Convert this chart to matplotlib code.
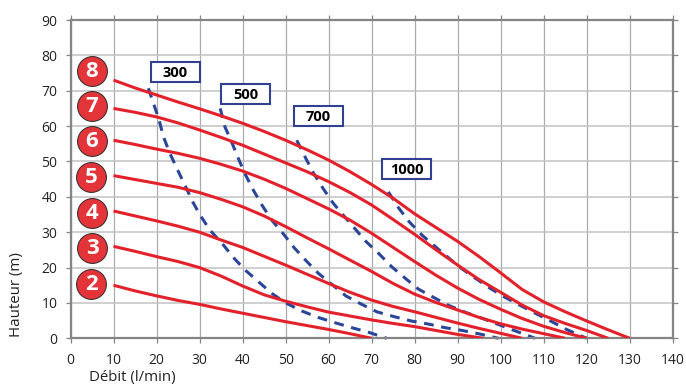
import matplotlib
matplotlib.use("Agg")
import matplotlib.pyplot as plt
from matplotlib.patches import Rectangle

plt.rcParams['font.family'] = ['Open Sans', 'DejaVu Sans']

W, H = 686, 391
# Red curves
x_2 = [10, 15, 20, 25, 30, 35, 40, 45, 50, 55, 60, 65, 70]
y_2 = [15, 13.4, 12, 10.7, 9.6, 8.3, 7.1, 5.9, 4.7, 3.6, 2.5, 1.3, 0]
x_3 = [10, 15, 20, 25, 30, 35, 40, 45, 50, 55, 60, 65, 70, 75, 80, 85, 90, 96]
y_3 = [26, 24.6, 23.1, 21.7, 20, 17.6, 14.8, 12.3, 10.5, 8.9, 7.4, 6.3, 5.2, 4.2, 3.3, 2.2, 1.1, 0]
x_4 = [10, 15, 20, 25, 30, 35, 40, 45, 50, 55, 60, 65, 70, 75, 80, 85, 90, 95, 100, 105]
y_4 = [36, 34.6, 33.2, 31.7, 30, 27.8, 25.7, 23.2, 20.7, 18.1, 15.5, 13, 10.8, 9, 7.5, 5.9, 4.3, 2.8, 1.4, 0]
x_5 = [10, 15, 20, 25, 30, 35, 40, 45, 50, 55, 60, 65, 70, 75, 80, 85, 90, 95, 100, 105, 110, 115]
y_5 = [46, 44.9, 43.8, 42.7, 41.2, 39.3, 37.2, 34.6, 31.6, 28.4, 25.3, 22.1, 18.9, 15.5, 12.5, 10.1, 8, 5.9, 4.1, 2.6, 1.3, 0]
x_6 = [10, 15, 20, 25, 30, 35, 40, 45, 50, 55, 60, 65, 70, 75, 80, 85, 90, 95, 100, 105, 110, 115, 120]
y_6 = [56, 54.8, 53.5, 52.3, 50.9, 49.2, 47.3, 45, 42.4, 39.5, 36.6, 33.4, 29.7, 25.7, 21.7, 17.8, 14.2, 11, 8.2, 5.6, 3.4, 1.6, 0]
x_7 = [10, 15, 20, 25, 30, 35, 40, 45, 50, 55, 60, 65, 70, 75, 80, 85, 90, 95, 100, 105, 110, 115, 120, 125]
y_7 = [65, 63.9, 62.6, 60.9, 58.9, 56.8, 54.6, 52.1, 49.6, 47.1, 44.3, 41.2, 37.7, 33.6, 29.4, 25, 20.7, 16.6, 13, 9.4, 6.4, 4.2, 2.2, 0]
x_8 = [10, 15, 20, 25, 30, 35, 40, 45, 50, 55, 60, 65, 70, 75, 80, 85, 90, 95, 100, 105, 110, 115, 120, 125, 130]
y_8 = [73, 70.8, 68.8, 66.8, 64.9, 62.9, 60.8, 58.5, 56, 53.3, 50.4, 47.1, 43.5, 39.6, 35.2, 31.3, 27.4, 23.1, 18.5, 13.8, 10.3, 7.5, 4.9, 2.4, 0]

# Blue dashed curves
x_300 = [18.1, 19.3, 20.6, 21.6, 23.1, 24.9, 26.6, 28.4, 30.1, 32.4, 35.2, 37.9, 40.6, 43.7, 46.8, 49.9, 53.8, 57.6, 61.5, 65.4, 69.3, 73.5]
y_300 = [70.7, 66.4, 61.7, 57, 52.3, 47.6, 43.3, 38.6, 34.9, 30.6, 26.9, 22.8, 19.3, 16, 12.7, 10.1, 7.7, 5.9, 4.4, 3, 1.7, 0]
x_500 = [34.8, 35.9, 37.6, 39, 40.7, 42.5, 44.6, 46.8, 49.7, 52, 54.8, 57.6, 61.1, 64, 67.7, 71.2, 75.3, 79.2, 83.3, 87.1, 91.1, 95.2, 99.5]
y_500 = [65, 59.8, 55.1, 50.9, 46.2, 41.9, 37.5, 33.4, 29.2, 25.6, 21.9, 18.4, 14.9, 12, 9.6, 7.5, 6.1, 4.9, 4, 3, 2.2, 1.2, 0]
x_700 = [52.6, 54.7, 56.5, 58.7, 61, 63.7, 66.2, 68.5, 71.8, 74.7, 77.8, 80.9, 84.5, 88.1, 91.9, 95.8, 99.5, 103.4, 108]
y_700 = [56, 50.9, 46.7, 42.4, 38.3, 34.4, 30.9, 27.6, 23.8, 20.2, 17, 13.9, 11.5, 9.2, 7.3, 5.6, 3.9, 2.1, 0]
x_1000 = [73.9, 76.2, 78.7, 81.7, 85.5, 90.6, 94.1, 97.6, 101, 104.7, 108.2, 111.9, 115.5, 120]
y_1000 = [41.4, 37, 33, 29.2, 25.2, 20, 17, 14.1, 11.6, 9.2, 7, 4.7, 2.4, 0]

x_ticks = list(range(0, 150, 10))
y_ticks = list(range(0, 100, 10))
badge_labels = ['8', '7', '6', '5', '4', '3', '2']
badge_x = [5, 5, 5, 4.8, 5, 5, 4.8]
badge_y = [75.6, 65.7, 55.8, 45.6, 35.5, 25.6, 15.4]
speed_labels = ['300', '500', '700', '1000']
speed_x = [18.6, 35, 52, 72.5]       # left edge
speed_y = [72.5, 66.3, 60, 45]       # bottom edge

RED = '#E3212B'
BLUE = '#2B4699'

fig = plt.figure(figsize=(W/100, H/100), dpi=100)
L, R, T, B = 70.5, 672.7, 20, 338.3
ax = fig.add_axes([L/W, 1-B/H, (R-L)/W, (B-T)/H])
ax.set_xlim(0, 140)
ax.set_ylim(0, 90)
ax.set_xticks(x_ticks)
ax.set_yticks(y_ticks)
ax.xaxis.grid(True, color='#ABABAB', lw=0.9)
ax.yaxis.grid(True, color='#C2C2C2', lw=1.1)
ax.set_axisbelow(True)
for s in ax.spines.values():
    s.set_color('#858585')
    s.set_linewidth(1.6)
ax.tick_params(axis='both', length=3.5, width=0.9, color='#858585',
               labelsize=10, labelcolor='#222222',
               top=True, right=True)
ax.tick_params(axis='x', pad=7)
ax.tick_params(axis='y', pad=6)

for xs, ys in [(x_300, y_300), (x_500, y_500), (x_700, y_700), (x_1000, y_1000)]:
    ax.plot(xs, ys, color=BLUE, lw=2.2, ls=(0, (3.2, 2.5)), clip_on=False, zorder=2)
for xs, ys in [(x_2, y_2), (x_3, y_3), (x_4, y_4), (x_5, y_5), (x_6, y_6), (x_7, y_7), (x_8, y_8)]:
    ax.plot(xs, ys, color=RED, lw=2.2, solid_capstyle='butt', zorder=3)

for lab, bx, by in zip(badge_labels, badge_x, badge_y):
    ax.plot([bx], [by], 'o', ms=21.5, mfc='#E3343A', mec='#2a2a2a', mew=0.7, zorder=4)
    ax.text(bx, by - 0.2, lab, color='white', fontsize=16, fontweight='bold',
            ha='center', va='center', zorder=5)

bw, bh = 49 / (R-L) * 140, 20 / (B-T) * 90
for lab, sx, sy in zip(speed_labels, speed_x, speed_y):
    ax.add_patch(Rectangle((sx, sy), bw, bh, fc='white', ec='#2F4190', lw=1.5, zorder=6))
    ax.text(sx + bw/2, sy + bh/2 - 0.2, lab, color='black', fontsize=10.5, fontweight='bold',
            ha='center', va='center', zorder=7)

fig.text(132/W, 1-377/H, 'Débit (l/min)', fontsize=10.8, color='#222222', ha='center', va='center')
fig.text(17/W, 1-295/H, 'Hauteur (m)', fontsize=10.8, color='#222222', ha='center', va='center', rotation=90)

fig.savefig('out.png', dpi=100)
